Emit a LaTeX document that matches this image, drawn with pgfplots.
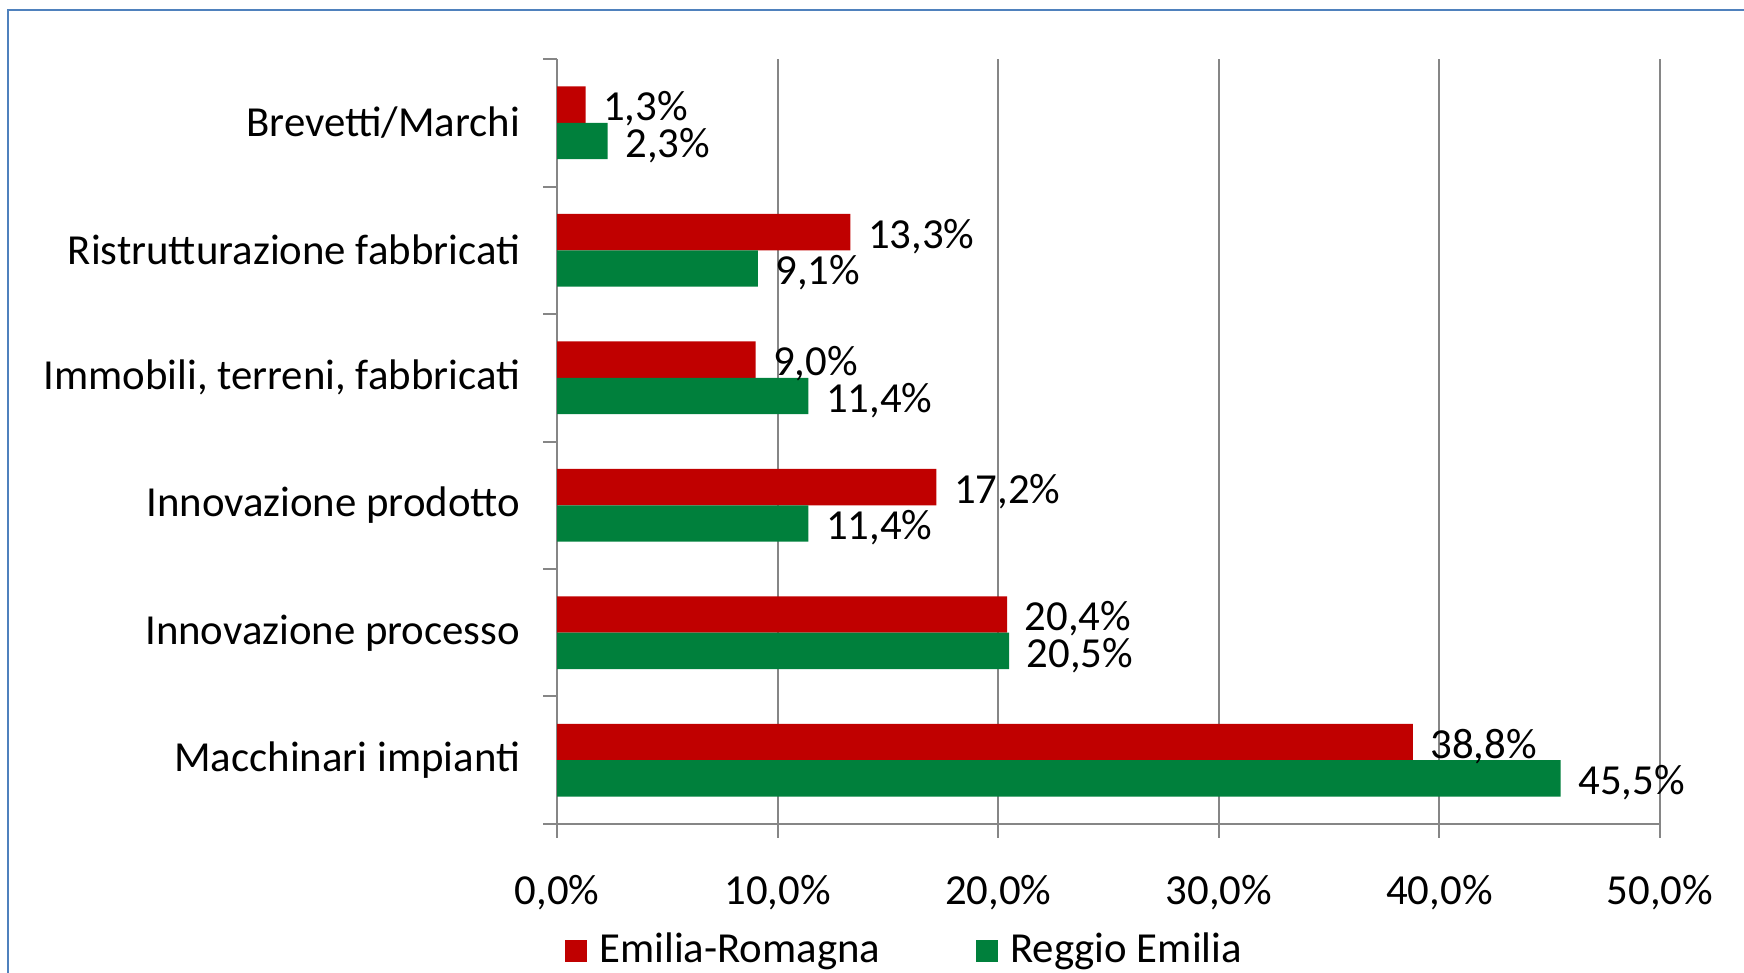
\documentclass[border=0pt]{standalone}
\usepackage{fontspec}
\setmainfont{Carlito}
\usepackage{pgfplots}
\pgfplotsset{compat=1.18}
\definecolor{erred}{HTML}{C00000}
\definecolor{regreen}{HTML}{00803C}
\definecolor{gridgray}{HTML}{868686}
\definecolor{frameblue}{HTML}{4F81BD}
\newcommand{\lblfont}{\fontsize{10.7}{12.5}\selectfont}
\begin{document}
\begin{tikzpicture}
\useasboundingbox (0,0) rectangle (436pt,243.25pt);
\draw[frameblue, line width=0.6pt] (2pt,-5pt) -- (2pt,240.75pt) -- (440pt,240.75pt);
\begin{axis}[
  at={(139.25pt,37.25pt)}, anchor=south west,
  scale only axis, width=275.75pt, height=191.25pt,
  xbar, bar width=0.285,
  xmin=0, xmax=50, ymin=-0.5, ymax=5.5,
  axis x line*=bottom, axis y line*=left,
  axis line style={gridgray, line width=0.5pt},
  xmajorgrids, grid style={gridgray, line width=0.5pt},
  tick align=outside, major tick length=3.5pt,
  tick style={gridgray, line width=0.5pt},
  xtick={0,10,20,30,40,50},
  xticklabels={{0,0\%},{10,0\%},{20,0\%},{30,0\%},{40,0\%},{50,0\%}},
  ytick={-0.5,0.5,1.5,2.5,3.5,4.5,5.5},
  y tick label as interval,
  yticklabels={Macchinari impianti, Innovazione processo, Innovazione prodotto, {Immobili, terreni, fabbricati}, Ristrutturazione fabbricati, Brevetti/Marchi},
  tick label style={font=\lblfont, text=black},
  xticklabel style={yshift=-5.8pt},
  yticklabel style={xshift=-2.2pt},
  point meta=x,
  nodes near coords={\pgfmathprintnumber[fixed, fixed zerofill, precision=1, use comma, assume math mode=true]{\pgfplotspointmeta}\%},
  nodes near coords style={anchor=west, font=\lblfont, text=black, inner sep=0pt, xshift=4.2pt, yshift=-1.1pt},
  legend style={at={(0.318,-0.166)}, anchor=center, draw=none, font=\lblfont, legend columns=2,
    /tikz/every even column/.append style={column sep=22pt}},
  legend image code/.code={\fill[#1] (0pt,-2.75pt) rectangle (5.5pt,2.75pt); \path (6.5pt,0pt);},
]
\addplot[fill=erred, draw=none, bar shift=0.1425] coordinates {(38.8,0) (20.4,1) (17.2,2) (9.0,3) (13.3,4) (1.3,5)};
\addplot[fill=regreen, draw=none, bar shift=-0.1425] coordinates {(45.5,0) (20.5,1) (11.4,2) (11.4,3) (9.1,4) (2.3,5)};
\legend{Emilia-Romagna, Reggio Emilia}
\end{axis}
\end{tikzpicture}
\end{document}
